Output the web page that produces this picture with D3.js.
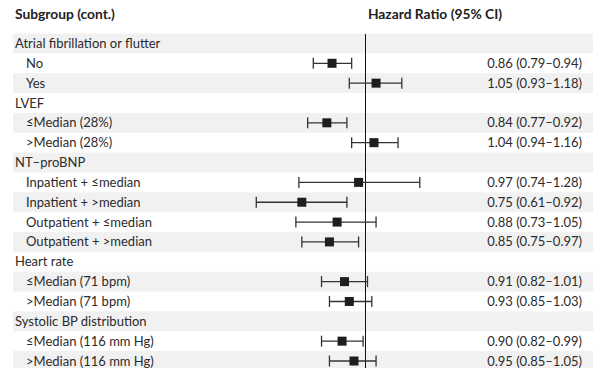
<!DOCTYPE html>
<meta charset="utf-8">
<style>
body { margin: 0; background: #fff; }
svg { font-family: Lato, sans-serif; }
.band { fill: #f1f1f1; }
.lbl { font-size: 13px; fill: #2b2b2b; }
.hr { font-size: 13px; fill: #2b2b2b; text-anchor: end; }
.head { font-size: 13.8px; font-weight: bold; fill: #222; }
.ci { stroke: #333; stroke-width: 1.3; }
.box { fill: #1e1e1e; }
.ref { stroke: #111; stroke-width: 1.3; shape-rendering: crispEdges; }
</style>
<body>
<div id="chart"></div>
<script src="https://cdn.jsdelivr.net/npm/d3@7"></script>
<script>

var labels = ["Atrial fibrillation or flutter", "No", "Yes",
  "LVEF", "\u2264Median (28%)", ">Median (28%)",
  "NT\u2013proBNP", "Inpatient + \u2264median", "Inpatient + >median", "Outpatient + \u2264median", "Outpatient + >median",
  "Heart rate", "\u2264Median (71 bpm)", ">Median (71 bpm)",
  "Systolic BP distribution", "\u2264Median (116 mm Hg)", ">Median (116 mm Hg)"];
var isGroup = [1,0,0, 1,0,0, 1,0,0,0,0, 1,0,0, 1,0,0];
var hr = [null,0.86,1.05, null,0.84,1.04, null,0.97,0.75,0.88,0.85, null,0.91,0.93, null,0.90,0.95];
var lo = [null,0.79,0.93, null,0.77,0.94, null,0.74,0.61,0.73,0.75, null,0.82,0.85, null,0.82,0.85];
var hi = [null,0.94,1.18, null,0.92,1.16, null,1.28,0.92,1.05,0.97, null,1.01,1.03, null,0.99,1.05];

var width = 602, height = 368,
    top0 = 33.5, step = 19.85;

var rows = labels.map(function(d, i) {
  return {label: d, group: isGroup[i], hr: hr[i], lo: lo[i], hi: hi[i], i: i};
});

var x = d3.scaleLog().domain([0.5, 2]).range([212.4, 518.2]);
var y = function(i) { return top0 + step * i; };

var svg = d3.select("#chart").append("svg")
    .attr("width", width)
    .attr("height", height);

// zebra bands
svg.selectAll(".band")
    .data(rows.filter(function(d) { return d.i % 2 === 0; }))
  .enter().append("rect")
    .attr("class", "band")
    .attr("x", 13)
    .attr("width", 580)
    .attr("y", function(d) { return y(d.i); })
    .attr("height", step);

svg.append("text").attr("class", "head")
    .attr("x", 15).attr("y", 19)
    .text("Subgroup (cont.)");

svg.append("text").attr("class", "head")
    .attr("x", 435).attr("y", 19)
    .attr("text-anchor", "middle")
    .text("Hazard Ratio (95% CI)");

svg.selectAll(".lbl")
    .data(rows)
  .enter().append("text")
    .attr("class", "lbl")
    .attr("x", function(d) { return d.group ? 15 : 26; })
    .attr("y", function(d) { return y(d.i) + step / 2; })
    .attr("dy", "0.35em")
    .text(function(d) { return d.label; });

svg.append("line").attr("class", "ref")
    .attr("x1", Math.round(x(1)) + 0.5).attr("x2", Math.round(x(1)) + 0.5)
    .attr("y1", top0).attr("y2", height);

var est = rows.filter(function(d) { return d.hr !== null; });

var g = svg.selectAll(".est")
    .data(est)
  .enter().append("g")
    .attr("class", "est")
    .attr("transform", function(d) { return "translate(0," + (y(d.i) + step / 2) + ")"; });

g.append("line").attr("class", "ci")
    .attr("x1", function(d) { return x(d.lo); })
    .attr("x2", function(d) { return x(d.hi); });
g.append("line").attr("class", "ci")
    .attr("x1", function(d) { return x(d.lo); })
    .attr("x2", function(d) { return x(d.lo); })
    .attr("y1", -5.5).attr("y2", 5.5);
g.append("line").attr("class", "ci")
    .attr("x1", function(d) { return x(d.hi); })
    .attr("x2", function(d) { return x(d.hi); })
    .attr("y1", -5.5).attr("y2", 5.5);
g.append("rect").attr("class", "box")
    .attr("x", function(d) { return x(d.hr) - 4.5; })
    .attr("y", -4.5)
    .attr("width", 9).attr("height", 9);

g.append("text").attr("class", "hr")
    .attr("x", 582)
    .attr("dy", "0.35em")
    .text(function(d) {
      return d.hr.toFixed(2) + " (" + d.lo.toFixed(2) + "\u2013" + d.hi.toFixed(2) + ")";
    });

</script>
</body>
